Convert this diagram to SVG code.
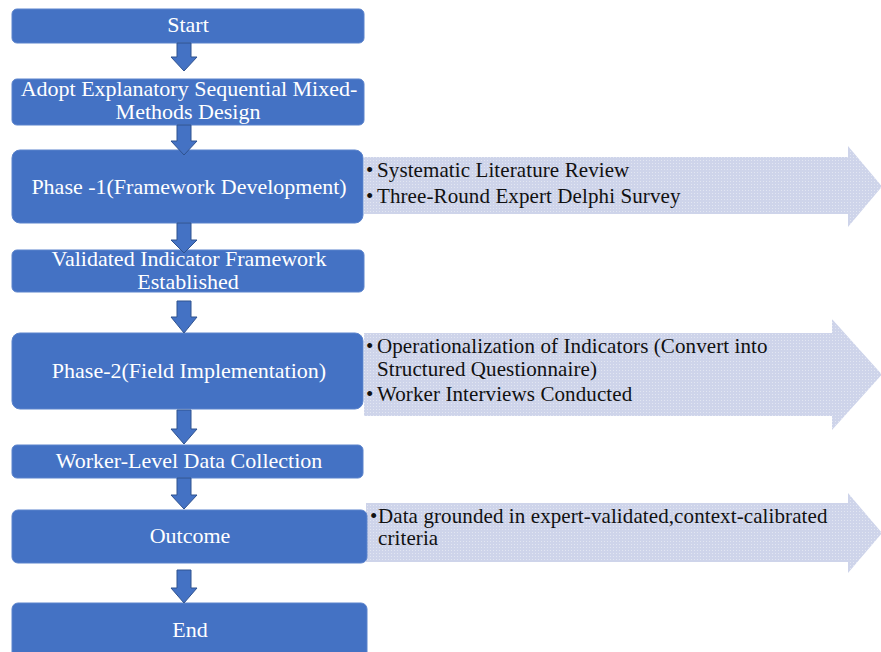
<svg xmlns="http://www.w3.org/2000/svg" width="881" height="652" viewBox="0 0 881 652">
<defs>
<pattern id="dots" width="3" height="3" patternUnits="userSpaceOnUse">
<rect width="3" height="3" fill="#CED4EA"/>
<rect x="1" y="1" width="1" height="1" fill="#E2E6F2"/>
</pattern>
</defs>
<style>
.box{fill:#4472C4;stroke:#5B83CC;stroke-width:1}
.bt{font-family:"Liberation Serif","Times New Roman",serif;font-size:22px;fill:#ffffff;text-anchor:middle}
.side{fill:url(#dots);stroke:none}
.st{font-family:"Liberation Serif","Times New Roman",serif;font-size:21px;letter-spacing:0.1px;fill:#111111}
.dn{fill:#4472C4;stroke:#2F528F;stroke-width:1}
</style>
<rect width="881" height="652" fill="#ffffff"/>

<g id="side1">
<path class="side" d="M364,157 H848 V146 L882,186.5 L848,227 V214 H364 Z"/>
<text class="st" x="366" y="177">•</text><text class="st" x="377" y="177">Systematic Literature Review</text>
<text class="st" x="366" y="203">•</text><text class="st" x="377" y="203">Three-Round Expert Delphi Survey</text>
</g>
<g id="side2">
<path class="side" d="M364,333 H832 V319 L882,374.5 L832,430 V416 H364 Z"/>
<text class="st" x="366" y="353">•</text><text class="st" x="377" y="353">Operationalization of Indicators (Convert into</text>
<text class="st" x="377" y="376">Structured Questionnaire)</text>
<text class="st" x="366" y="401">•</text><text class="st" x="377" y="401">Worker Interviews Conducted</text>
</g>
<g id="side3">
<path class="side" d="M366,503 H848 V493 L882,533 L848,573 V562 H366 Z"/>
<text class="st" x="370" y="523">•</text><text class="st" x="378" y="523">Data grounded in expert-validated,context-calibrated</text>
<text class="st" x="378" y="545">criteria</text>
</g>

<g id="start"><rect class="box" x="12" y="9" width="352" height="34" rx="5"/><text class="bt" x="188" y="32">Start</text></g>
<g id="adopt"><rect class="box" x="12" y="79" width="352" height="46" rx="5"/><text class="bt" x="189" y="96">Adopt Explanatory Sequential Mixed-</text><text class="bt" x="188" y="119">Methods Design</text></g>
<g id="phase1"><rect class="box" x="12" y="150" width="351" height="73" rx="8"/><text class="bt" x="189" y="194">Phase -1(Framework Development)</text></g>
<g id="validated"><rect class="box" x="12" y="250" width="352" height="42" rx="5"/><text class="bt" x="189" y="266">Validated Indicator Framework</text><text class="bt" x="188" y="289">Established</text></g>
<g id="phase2"><rect class="box" x="12" y="333" width="351" height="76" rx="8"/><text class="bt" x="189" y="378">Phase-2(Field Implementation)</text></g>
<g id="worker"><rect class="box" x="12" y="445" width="351" height="33" rx="5"/><text class="bt" x="189" y="468">Worker-Level Data Collection</text></g>
<g id="outcome"><rect class="box" x="12" y="510" width="355" height="53" rx="6"/><text class="bt" x="190" y="543">Outcome</text></g>
<g id="end"><rect class="box" x="12" y="603" width="355" height="60" rx="6"/><text class="bt" x="190" y="637">End</text></g>

<g id="connectors">
<path class="dn" d="M177,43 H191 V57 H197 L184,71 L171,57 H177 Z"/>
<path class="dn" d="M177,125 H191 V141 H197 L184,155 L171,141 H177 Z"/>
<path class="dn" d="M177,223 H191 V240 H197 L184,253 L171,240 H177 Z"/>
<path class="dn" d="M177,301 H191 V317 H197 L184,333 L171,317 H177 Z"/>
<path class="dn" d="M177,410 H191 V429 H197 L184,444 L171,429 H177 Z"/>
<path class="dn" d="M177,478 H191 V495 H197 L184,509 L171,495 H177 Z"/>
<path class="dn" d="M177,570 H191 V588 H197 L184,603 L171,588 H177 Z"/>
</g>
</svg>
